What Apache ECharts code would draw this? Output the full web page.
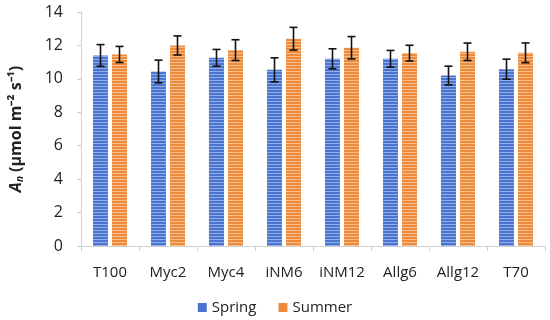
<!DOCTYPE html>
<html><head><meta charset="utf-8">
<script src="https://cdn.jsdelivr.net/npm/echarts@6/dist/echarts.min.js"></script>
<style>html,body{margin:0;padding:0;background:#fff}#c{width:550px;height:320px}</style>
</head><body><div id="c"></div>
<script>
const categories = ['T100','Myc2','Myc4','iNM6','iNM12','Allg6','Allg12','T70'];
const spring = [11.4, 10.44, 11.26, 10.54, 11.2, 11.2, 10.2, 10.58];
const springErr = [0.65, 0.68, 0.5, 0.72, 0.6, 0.5, 0.56, 0.6];
const summer = [11.46, 12.0, 11.72, 12.4, 11.86, 11.54, 11.62, 11.56];
const summerErr = [0.48, 0.57, 0.62, 0.68, 0.67, 0.47, 0.52, 0.59];
const yTicks = [0, 2, 4, 6, 8, 10, 12, 14];

function stripe(base, light) {
  const c = document.createElement('canvas');
  c.width = 4; c.height = 3;
  const g = c.getContext('2d');
  g.fillStyle = base; g.fillRect(0, 0, 4, 3);
  g.fillStyle = light; g.fillRect(0, 2, 4, 1);
  return { image: c, repeat: 'repeat' };
}
const blueFill = stripe('#4A74D0', '#8FAEEA');
const orangeFill = stripe('#EE8A3C', '#F6BE8C');

const chart = echarts.init(document.getElementById('c'));
const font = 'Open Sans';

function errSeries(vals, errs, idx) {
  return {
    type: 'custom',
    silent: true,
    z: 10,
    data: vals.map((v, i) => [i, v - errs[i], v + errs[i]]),
    renderItem: function (params, api) {
      const i = api.value(0);
      const lo = api.coord([i, api.value(1)]);
      const hi = api.coord([i, api.value(2)]);
      const off = (idx === 0 ? -1 : 1) * 9.5;
      const x = lo[0] + off;
      const cap = 4;
      const st = { stroke: '#111', lineWidth: 1.6 };
      return {
        type: 'group',
        children: [
          { type: 'line', shape: { x1: x, y1: lo[1], x2: x, y2: hi[1] }, style: st },
          { type: 'line', shape: { x1: x - cap, y1: lo[1], x2: x + cap, y2: lo[1] }, style: st },
          { type: 'line', shape: { x1: x - cap, y1: hi[1], x2: x + cap, y2: hi[1] }, style: st }
        ]
      };
    },
    encode: { x: 0, y: [1, 2] }
  };
}

chart.setOption({
  animation: false,
  textStyle: { fontFamily: font },
  grid: { left: 78, right: 5, top: 12, bottom: 74 },
  legend: {
    bottom: 0, left: 'center', itemWidth: 9, itemHeight: 9, itemGap: 22,
    textStyle: { fontSize: 15, color: '#222', fontFamily: font },
    data: [
      { name: 'Spring', icon: 'rect', itemStyle: { color: '#4A74D0' } },
      { name: 'Summer', icon: 'rect', itemStyle: { color: '#EE8A3C' } }
    ]
  },
  xAxis: {
    type: 'category', data: categories,
    axisLine: { lineStyle: { color: '#D0D0D0' } },
    axisTick: { show: true, length: 5, lineStyle: { color: '#D0D0D0' } },
    axisLabel: { fontSize: 15, color: '#222', margin: 19, interval: 0 }
  },
  yAxis: {
    type: 'value', min: 0, max: 14, interval: 2,
    splitLine: { show: false },
    axisLine: { show: true, lineStyle: { color: '#D0D0D0' } },
    axisTick: { show: true, length: 4, lineStyle: { color: '#D0D0D0' } },
    axisLabel: { fontSize: 16, color: '#222', margin: 18,
      formatter: v => yTicks.includes(v) ? String(v) : '' },
    name: '{a|A}{s|n}{b| (μmol m⁻² s⁻¹)}',
    nameLocation: 'middle', nameGap: 56, nameRotate: 90,
    nameTextStyle: {
      rich: {
        a: { fontSize: 16, fontWeight: 'bold', fontStyle: 'italic', color: '#222', fontFamily: font },
        s: { fontSize: 10, fontWeight: 'bold', fontStyle: 'italic', color: '#222', fontFamily: font, verticalAlign: 'bottom', padding: [8, 0, 0, 0] },
        b: { fontSize: 16, fontWeight: 'bold', color: '#222', fontFamily: font }
      }
    }
  },
  series: [
    { name: 'Spring', type: 'bar', data: spring, barWidth: 15, barGap: '27%',
      itemStyle: { color: blueFill } },
    { name: 'Summer', type: 'bar', data: summer, barWidth: 15, barGap: '27%',
      itemStyle: { color: orangeFill } },
    errSeries(spring, springErr, 0),
    errSeries(summer, summerErr, 1)
  ]
});
</script></body></html>
